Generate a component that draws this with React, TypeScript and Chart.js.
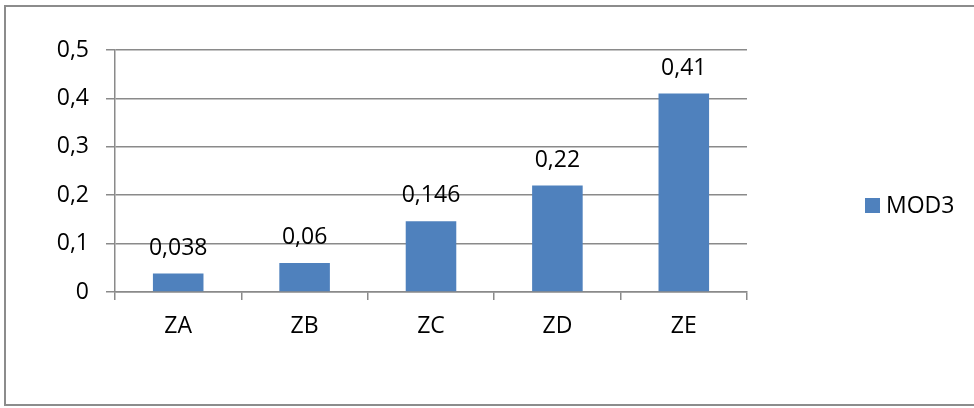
import React, { useEffect, useRef } from "react";
import { Chart, registerables } from "chart.js";

Chart.register(...registerables);

const categories = ["ZA", "ZB", "ZC", "ZD", "ZE"];
const seriesName = "MOD3";
const mod3Values = [0.038, 0.06, 0.146, 0.22, 0.41];
const valueLabels = ["0,038", "0,06", "0,146", "0,22", "0,41"];
const yTickLabels = ["0", "0,1", "0,2", "0,3", "0,4", "0,5"];

const FONT = "'Open Sans', sans-serif";
const FS = 23;
const BAR = "#4F81BD";
const GRID = "#8a8a8a";

export default function App() {
  const ref = useRef<HTMLCanvasElement | null>(null);
  useEffect(() => {
    if (!ref.current) return;
    const labelPlugin = {
      id: "labels",
      afterDatasetsDraw(chart: any) {
        const ctx = chart.ctx;
        const meta = chart.getDatasetMeta(0);
        ctx.save();
        ctx.font = `${FS}px ${FONT}`;
        ctx.fillStyle = "#000";
        ctx.textAlign = "center";
        ctx.textBaseline = "alphabetic";
        meta.data.forEach((bar: any, i: number) => {
          ctx.fillText(valueLabels[i], bar.x, bar.y - 19);
        });
        // legend
        ctx.fillStyle = BAR;
        ctx.fillRect(865, 198, 15, 15);
        ctx.fillStyle = "#000";
        ctx.textAlign = "left";
        ctx.textBaseline = "middle";
        ctx.fillText(seriesName, 886, 206);
        ctx.restore();
      },
    };
    const chart = new Chart(ref.current, {
      type: "bar",
      data: {
        labels: categories,
        datasets: [
          {
            label: seriesName,
            data: mod3Values,
            backgroundColor: BAR,
            categoryPercentage: 1,
            barPercentage: 0.4,
          },
        ],
      },
      options: {
        responsive: false,
        animation: false,
        devicePixelRatio: 1,
        layout: { padding: { top: 50, right: 227, bottom: 0, left: 0 } },
        plugins: { legend: { display: false }, tooltip: { enabled: false } },
        scales: {
          x: {
            afterFit: (s: any) => {
              s.height = 116;
            },
            grid: {
              drawOnChartArea: false,
              offset: true,
              tickLength: 8,
              color: GRID,
              lineWidth: 1.5,
            },
            border: { display: true, color: GRID, width: 1.5 },
            ticks: {
              font: { family: FONT, size: FS },
              color: "#000",
              padding: 13,
            },
          },
          y: {
            min: 0,
            max: 0.5,
            afterFit: (s: any) => {
              s.width = 115;
            },
            grid: { color: GRID, lineWidth: 1.5, tickLength: 9 },
            border: { display: true, color: GRID, width: 1.5 },
            ticks: {
              stepSize: 0.1,
              font: { family: FONT, size: FS },
              color: "#000",
              padding: 17,
              callback: (_v: any, i: number) => yTickLabels[i],
            },
          },
        },
      },
      plugins: [labelPlugin],
    });
    return () => chart.destroy();
  }, []);
  return (
    <>
      <div
        style={{
          position: "fixed",
          left: 4,
          top: 5,
          width: 1000,
          height: 401,
          boxSizing: "border-box",
          border: "2px solid #8c8c8c",
        }}
      />
      <canvas
        ref={ref}
        width={974}
        height={408}
        style={{ position: "fixed", left: 0, top: 0, width: 974, height: 408 }}
      />
    </>
  );
}
